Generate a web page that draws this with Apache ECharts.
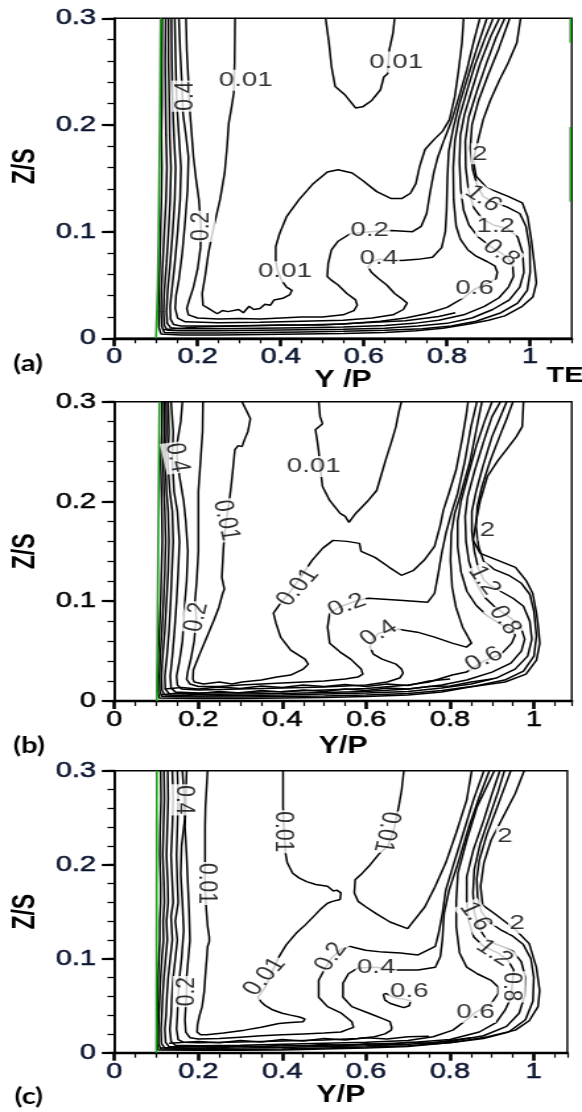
<!DOCTYPE html>
<html><head><meta charset="utf-8">
<script src="https://cdn.jsdelivr.net/npm/echarts@6/dist/echarts.min.js"></script>
<style>
html,body{margin:0;padding:0;background:#fff;overflow:hidden}
#wrap{width:582px;height:1112px;overflow:hidden}
#chart{width:441px;height:1112px;transform:scaleX(1.3197);transform-origin:0 0}
</style></head>
<body><div id="wrap"><div id="chart"></div></div>
<script>
// ---------- axis ticks ----------
const xMajorStep = 0.2, xMinorStep = 0.05, xLabelMax = 1;
const yMajorStep = 0.1, yMinorStep = 0.02;
const xMax = [1.1, 1.09, 1.08];
const yMax = 0.3;
const xTitles = ['Y /P', 'Y/P', 'Y/P'];
const yTitle = 'Z/S';
const panelTags = ['(a)', '(b)', '(c)'];

// ---------- panel (a) contour lines [Y/P, Z/S] ----------
const A_G = [[0.111,0.3],[0.109,0.2],[0.106,0.1],[0.104,0.05],[0.1,0]];
const A_TE1 = [[1.097,0.3],[1.097,0.277]];
const A_TE2 = [[1.097,0.198],[1.097,0.128]];
const A_001 = [[0.29,0.3],[0.289,0.26],[0.287,0.23],[0.281,0.215],[0.275,0.202],[0.271,0.18],[0.265,0.155],[0.254,0.13],[0.239,0.105],[0.226,0.08],[0.218,0.058],[0.211,0.042],[0.213,0.031],[0.226,0.028],[0.247,0.023],[0.26,0.026],[0.273,0.025],[0.299,0.027],[0.31,0.024],[0.324,0.03],[0.335,0.027],[0.35,0.028],[0.362,0.032],[0.375,0.031],[0.384,0.036],[0.405,0.0375],[0.422,0.041],[0.427,0.045],[0.414,0.048],[0.401,0.055],[0.392,0.064],[0.388,0.073],[0.388,0.086],[0.397,0.098],[0.414,0.114],[0.444,0.13],[0.478,0.145],[0.512,0.156],[0.538,0.158],[0.572,0.155],[0.597,0.148],[0.631,0.1375],[0.666,0.131],[0.691,0.131],[0.712,0.136],[0.725,0.145],[0.734,0.161],[0.747,0.177],[0.768,0.186],[0.789,0.194],[0.806,0.205],[0.819,0.227],[0.828,0.252],[0.836,0.277],[0.84,0.3]];
const A_001U = [[0.508,0.3],[0.516,0.277],[0.522,0.255],[0.531,0.236],[0.555,0.228],[0.58,0.216],[0.597,0.217],[0.619,0.223],[0.64,0.233],[0.648,0.245],[0.657,0.248],[0.661,0.27],[0.67,0.286],[0.674,0.3]];
const A_02 = [[0.172,0.3],[0.174,0.27],[0.178,0.24],[0.182,0.21],[0.186,0.19],[0.19,0.17],[0.196,0.15],[0.203,0.13],[0.208,0.105],[0.207,0.085],[0.2,0.065],[0.19,0.048],[0.18,0.036],[0.174,0.028],[0.178,0.022],[0.2,0.019],[0.25,0.018],[0.3,0.0185],[0.35,0.018],[0.4,0.019],[0.45,0.02],[0.5,0.02],[0.55,0.022],[0.576,0.026],[0.584,0.031],[0.58,0.036],[0.559,0.042],[0.538,0.05],[0.52,0.055],[0.512,0.058],[0.514,0.07],[0.522,0.083],[0.538,0.091],[0.567,0.098],[0.614,0.1],[0.666,0.101],[0.717,0.1],[0.738,0.105],[0.751,0.117],[0.759,0.136],[0.768,0.155],[0.778,0.17],[0.79,0.183],[0.8,0.193],[0.812,0.205],[0.83,0.228],[0.848,0.252],[0.864,0.278],[0.879,0.3]];
const A_04 = [[0.155,0.3],[0.158,0.27],[0.162,0.24],[0.165,0.21],[0.172,0.19],[0.178,0.17],[0.176,0.14],[0.17,0.11],[0.163,0.08],[0.155,0.055],[0.148,0.04],[0.146,0.028],[0.152,0.019],[0.17,0.0155],[0.25,0.0145],[0.35,0.015],[0.45,0.016],[0.55,0.017],[0.62,0.019],[0.67,0.022],[0.695,0.027],[0.704,0.033],[0.695,0.036],[0.674,0.042],[0.655,0.05],[0.635,0.056],[0.618,0.062],[0.61,0.067],[0.62,0.072],[0.636,0.074],[0.691,0.073],[0.73,0.074],[0.765,0.076],[0.787,0.085],[0.796,0.1],[0.799,0.12],[0.801,0.15],[0.804,0.175],[0.815,0.197],[0.83,0.22],[0.85,0.245],[0.872,0.272],[0.896,0.3]];
const A_06 = [[0.145,0.3],[0.147,0.26],[0.15,0.22],[0.155,0.19],[0.16,0.16],[0.158,0.13],[0.152,0.1],[0.145,0.07],[0.138,0.045],[0.134,0.03],[0.135,0.018],[0.142,0.013],[0.16,0.0115],[0.25,0.0115],[0.35,0.012],[0.45,0.0125],[0.55,0.0135],[0.64,0.016],[0.7,0.019],[0.75,0.023],[0.8,0.029],[0.84,0.038],[0.866,0.046],[0.9,0.052],[0.918,0.056],[0.921,0.062],[0.915,0.068],[0.896,0.072],[0.87,0.077],[0.85,0.083],[0.832,0.093],[0.822,0.105],[0.816,0.13],[0.815,0.16],[0.819,0.185],[0.828,0.205],[0.845,0.228],[0.866,0.255],[0.89,0.28],[0.911,0.3]];
const A_08 = [[0.137,0.3],[0.138,0.26],[0.14,0.22],[0.143,0.19],[0.147,0.16],[0.145,0.13],[0.14,0.1],[0.134,0.07],[0.128,0.045],[0.125,0.025],[0.127,0.014],[0.135,0.01],[0.16,0.009],[0.25,0.009],[0.35,0.0095],[0.45,0.01],[0.55,0.0105],[0.65,0.012],[0.72,0.014],[0.78,0.017],[0.84,0.022],[0.89,0.03],[0.925,0.038],[0.948,0.048],[0.96,0.058],[0.958,0.068],[0.945,0.076],[0.93,0.08],[0.905,0.086],[0.875,0.095],[0.853,0.106],[0.84,0.12],[0.833,0.14],[0.83,0.165],[0.832,0.19],[0.842,0.21],[0.86,0.233],[0.88,0.258],[0.905,0.283],[0.926,0.3]];
const A_12 = [[0.13,0.3],[0.13,0.26],[0.132,0.22],[0.133,0.19],[0.136,0.16],[0.134,0.13],[0.13,0.1],[0.125,0.07],[0.12,0.045],[0.118,0.025],[0.12,0.012],[0.127,0.0075],[0.16,0.007],[0.25,0.007],[0.35,0.0075],[0.45,0.008],[0.55,0.0085],[0.65,0.0095],[0.73,0.0115],[0.8,0.014],[0.86,0.019],[0.91,0.027],[0.95,0.036],[0.975,0.048],[0.985,0.062],[0.982,0.08],[0.97,0.095],[0.945,0.103],[0.913,0.106],[0.885,0.112],[0.865,0.122],[0.852,0.138],[0.845,0.16],[0.844,0.185],[0.852,0.207],[0.872,0.232],[0.895,0.258],[0.918,0.282],[0.939,0.3]];
const A_16 = [[0.123,0.3],[0.122,0.26],[0.123,0.22],[0.124,0.19],[0.126,0.16],[0.124,0.13],[0.12,0.1],[0.116,0.07],[0.113,0.045],[0.112,0.025],[0.114,0.011],[0.12,0.0055],[0.16,0.005],[0.25,0.005],[0.35,0.0055],[0.45,0.006],[0.55,0.0065],[0.65,0.0075],[0.74,0.009],[0.81,0.0115],[0.87,0.016],[0.93,0.024],[0.97,0.033],[0.993,0.045],[1.0,0.062],[0.999,0.085],[0.99,0.105],[0.975,0.117],[0.945,0.123],[0.91,0.128],[0.887,0.133],[0.873,0.143],[0.862,0.158],[0.856,0.178],[0.86,0.2],[0.876,0.223],[0.9,0.248],[0.925,0.272],[0.951,0.3]];
const A_2 = [[0.115,0.3],[0.114,0.26],[0.114,0.22],[0.113,0.19],[0.114,0.16],[0.113,0.13],[0.111,0.1],[0.109,0.07],[0.107,0.045],[0.106,0.025],[0.107,0.01],[0.112,0.004],[0.16,0.003],[0.25,0.003],[0.35,0.0035],[0.45,0.004],[0.55,0.0045],[0.65,0.0055],[0.725,0.007],[0.79,0.0095],[0.853,0.0135],[0.9,0.017],[0.939,0.021],[0.981,0.03],[1.007,0.039],[1.015,0.052],[1.011,0.067],[1.003,0.092],[0.994,0.114],[0.981,0.127],[0.947,0.133],[0.896,0.141],[0.87,0.152],[0.863,0.167],[0.875,0.186],[0.887,0.205],[0.904,0.223],[0.926,0.242],[0.947,0.258],[0.968,0.277],[0.977,0.3]];
const A_X1 = [[0.115,0.008],[0.2,0.0105],[0.3,0.0115],[0.4,0.0125],[0.5,0.0125],[0.6,0.0145],[0.7,0.0165],[0.78,0.0205],[0.82,0.024]];
const A_LBL = [[0.316,0.242,'0.01',0],[0.678,0.259,'0.01',0],[0.171,0.227,'0.4',90],[0.209,0.105,'0.2',90],[0.41,0.0625,'0.01',0],[0.614,0.101,'0.2',0],[0.636,0.075,'0.4',0],[0.866,0.047,'0.6',0],[0.93,0.08,'0.8',-40],[0.917,0.105,'1.2',0],[0.887,0.131,'1.6',-40],[0.879,0.173,'2',0]];

// ---------- panel (b) ----------
const B_G = [[0.107,0.3],[0.104,0.15],[0.101,0]];
const B_001 = [[0.304,0.3],[0.316,0.29],[0.324,0.283],[0.318,0.27],[0.31,0.262],[0.304,0.255],[0.295,0.256],[0.287,0.252],[0.283,0.235],[0.278,0.215],[0.272,0.195],[0.266,0.18],[0.262,0.165],[0.26,0.155],[0.256,0.124],[0.262,0.112],[0.258,0.108],[0.249,0.094],[0.237,0.081],[0.22,0.064],[0.203,0.047],[0.188,0.031],[0.187,0.022],[0.19,0.019],[0.212,0.017],[0.25,0.019],[0.28,0.017],[0.304,0.019],[0.35,0.021],[0.387,0.024],[0.42,0.026],[0.45,0.032],[0.462,0.037],[0.454,0.042],[0.42,0.051],[0.396,0.064],[0.385,0.078],[0.379,0.088],[0.396,0.098],[0.42,0.11],[0.445,0.125],[0.471,0.141],[0.496,0.153],[0.521,0.161],[0.554,0.16],[0.584,0.158],[0.588,0.15],[0.621,0.144],[0.655,0.134],[0.684,0.126],[0.713,0.131],[0.738,0.141],[0.763,0.155],[0.776,0.175],[0.784,0.191],[0.797,0.208],[0.814,0.231],[0.83,0.265],[0.839,0.288],[0.843,0.3]];
const B_001U = [[0.487,0.3],[0.49,0.285],[0.496,0.278],[0.479,0.272],[0.483,0.262],[0.487,0.25],[0.49,0.235],[0.496,0.215],[0.513,0.201],[0.538,0.188],[0.55,0.185],[0.559,0.179],[0.575,0.188],[0.605,0.201],[0.625,0.211],[0.635,0.225],[0.646,0.241],[0.659,0.258],[0.671,0.275],[0.678,0.29],[0.684,0.3]];
const B_02 = [[0.211,0.3],[0.21,0.27],[0.205,0.24],[0.2,0.21],[0.2,0.18],[0.2,0.15],[0.196,0.12],[0.192,0.1],[0.195,0.084],[0.19,0.06],[0.182,0.042],[0.175,0.03],[0.172,0.022],[0.18,0.017],[0.2,0.0145],[0.25,0.0145],[0.3,0.016],[0.35,0.017],[0.4,0.018],[0.45,0.019],[0.5,0.02],[0.55,0.022],[0.58,0.024],[0.592,0.027],[0.588,0.032],[0.563,0.042],[0.538,0.049],[0.513,0.058],[0.508,0.074],[0.513,0.088],[0.535,0.094],[0.554,0.097],[0.58,0.101],[0.605,0.103],[0.68,0.101],[0.747,0.099],[0.763,0.108],[0.772,0.128],[0.78,0.148],[0.79,0.168],[0.803,0.188],[0.818,0.208],[0.835,0.24],[0.85,0.275],[0.864,0.3]];
const B_04 = [[0.162,0.3],[0.158,0.28],[0.15,0.26],[0.149,0.244],[0.155,0.225],[0.165,0.2],[0.17,0.18],[0.175,0.15],[0.172,0.12],[0.168,0.1],[0.165,0.08],[0.162,0.06],[0.155,0.04],[0.148,0.025],[0.15,0.016],[0.16,0.012],[0.2,0.011],[0.3,0.012],[0.4,0.013],[0.5,0.014],[0.6,0.016],[0.65,0.019],[0.68,0.023],[0.688,0.028],[0.684,0.032],[0.671,0.037],[0.638,0.042],[0.617,0.047],[0.609,0.054],[0.615,0.062],[0.63,0.068],[0.676,0.072],[0.722,0.069],[0.763,0.064],[0.805,0.058],[0.839,0.054],[0.851,0.058],[0.83,0.074],[0.814,0.094],[0.805,0.114],[0.801,0.141],[0.803,0.168],[0.811,0.188],[0.826,0.208],[0.848,0.241],[0.864,0.275],[0.876,0.3]];
const B_06 = [[0.135,0.3],[0.14,0.27],[0.138,0.24],[0.142,0.21],[0.15,0.19],[0.155,0.16],[0.152,0.13],[0.148,0.1],[0.143,0.07],[0.138,0.045],[0.133,0.025],[0.135,0.013],[0.145,0.009],[0.2,0.008],[0.3,0.0085],[0.4,0.0095],[0.5,0.011],[0.6,0.0125],[0.7,0.016],[0.75,0.019],[0.805,0.026],[0.839,0.029],[0.88,0.04],[0.922,0.047],[0.947,0.058],[0.955,0.066],[0.945,0.072],[0.92,0.077],[0.89,0.085],[0.862,0.096],[0.84,0.11],[0.826,0.13],[0.818,0.155],[0.818,0.18],[0.826,0.2],[0.842,0.225],[0.862,0.255],[0.882,0.28],[0.9,0.3]];
const B_08 = [[0.128,0.3],[0.13,0.27],[0.127,0.24],[0.132,0.21],[0.138,0.19],[0.14,0.16],[0.137,0.13],[0.134,0.1],[0.13,0.07],[0.125,0.045],[0.12,0.025],[0.121,0.012],[0.13,0.0075],[0.2,0.0065],[0.3,0.007],[0.4,0.0075],[0.5,0.0085],[0.6,0.0095],[0.7,0.012],[0.78,0.016],[0.84,0.021],[0.9,0.029],[0.945,0.038],[0.97,0.05],[0.978,0.062],[0.968,0.075],[0.945,0.083],[0.931,0.087],[0.905,0.095],[0.88,0.105],[0.86,0.12],[0.845,0.14],[0.838,0.16],[0.836,0.185],[0.842,0.205],[0.858,0.23],[0.88,0.26],[0.9,0.285],[0.92,0.3]];
const B_12 = [[0.123,0.3],[0.124,0.27],[0.121,0.24],[0.124,0.21],[0.128,0.19],[0.13,0.16],[0.128,0.13],[0.124,0.1],[0.12,0.07],[0.115,0.045],[0.112,0.025],[0.113,0.011],[0.12,0.006],[0.2,0.005],[0.3,0.0055],[0.4,0.006],[0.5,0.007],[0.6,0.008],[0.7,0.0095],[0.78,0.013],[0.85,0.017],[0.91,0.023],[0.955,0.032],[0.985,0.045],[0.995,0.062],[0.99,0.08],[0.975,0.095],[0.95,0.103],[0.92,0.11],[0.895,0.116],[0.881,0.121],[0.868,0.132],[0.858,0.15],[0.852,0.17],[0.852,0.19],[0.862,0.21],[0.878,0.235],[0.9,0.265],[0.92,0.285],[0.935,0.3]];
const B_16 = [[0.118,0.3],[0.119,0.27],[0.116,0.24],[0.118,0.21],[0.12,0.19],[0.122,0.16],[0.12,0.13],[0.117,0.1],[0.113,0.07],[0.109,0.045],[0.107,0.025],[0.108,0.01],[0.113,0.0045],[0.2,0.004],[0.3,0.004],[0.4,0.0045],[0.5,0.005],[0.6,0.006],[0.7,0.0075],[0.78,0.0105],[0.86,0.015],[0.93,0.021],[0.975,0.03],[1.0,0.045],[1.006,0.065],[1.0,0.09],[0.99,0.107],[0.97,0.118],[0.94,0.126],[0.905,0.132],[0.88,0.14],[0.868,0.155],[0.862,0.175],[0.865,0.195],[0.876,0.215],[0.895,0.24],[0.918,0.265],[0.937,0.285],[0.95,0.3]];
const B_2 = [[0.113,0.3],[0.113,0.27],[0.11,0.24],[0.112,0.21],[0.113,0.19],[0.114,0.16],[0.112,0.13],[0.11,0.1],[0.107,0.07],[0.104,0.045],[0.103,0.025],[0.103,0.01],[0.107,0.003],[0.2,0.0025],[0.3,0.0025],[0.4,0.003],[0.5,0.0035],[0.6,0.0045],[0.7,0.006],[0.78,0.009],[0.847,0.014],[0.931,0.019],[0.981,0.027],[1.006,0.041],[1.014,0.058],[1.01,0.075],[1.006,0.088],[0.997,0.108],[0.981,0.121],[0.956,0.134],[0.914,0.141],[0.872,0.148],[0.855,0.161],[0.862,0.18],[0.872,0.201],[0.889,0.225],[0.914,0.241],[0.94,0.255],[0.958,0.265],[0.972,0.275],[0.975,0.3]];
const B_X1 = [[0.11,0.006],[0.15,0.008],[0.2,0.0075],[0.25,0.0095],[0.3,0.008],[0.35,0.0105],[0.4,0.009],[0.45,0.011],[0.5,0.0095],[0.55,0.012],[0.6,0.0105],[0.65,0.013],[0.7,0.012],[0.75,0.0145],[0.8,0.015],[0.85,0.019],[0.9,0.022]];
const B_X2 = [[0.12,0.012],[0.16,0.0135],[0.2,0.012],[0.25,0.014],[0.3,0.0125],[0.35,0.015],[0.4,0.0135],[0.45,0.016],[0.5,0.0145],[0.55,0.0165],[0.6,0.0145],[0.65,0.017],[0.7,0.0155],[0.75,0.02],[0.8,0.022]];
const B_LBL = [[0.149,0.244,'0.4',-80],[0.266,0.181,'0.01',-80],[0.475,0.235,'0.01',0],[0.195,0.084,'0.2',80],[0.437,0.114,'0.01',55],[0.554,0.096,'0.2',25],[0.63,0.068,'0.4',35],[0.881,0.042,'0.6',30],[0.931,0.081,'0.8',-60],[0.881,0.121,'1.2',-60],[0.889,0.171,'2',0]];

// ---------- panel (c) ----------
const C_G = [[0.101,0.3],[0.1,0]];
const C_001 = [[0.402,0.3],[0.402,0.28],[0.402,0.262],[0.404,0.24],[0.408,0.212],[0.412,0.202],[0.425,0.191],[0.44,0.186],[0.458,0.182],[0.48,0.179],[0.508,0.177],[0.522,0.172],[0.53,0.173],[0.54,0.17],[0.538,0.163],[0.533,0.162],[0.52,0.161],[0.508,0.159],[0.49,0.152],[0.475,0.145],[0.455,0.136],[0.433,0.127],[0.41,0.115],[0.392,0.102],[0.375,0.085],[0.36,0.07],[0.342,0.059],[0.35,0.054],[0.36,0.05],[0.375,0.046],[0.4,0.042],[0.42,0.04],[0.441,0.038],[0.454,0.036],[0.45,0.033],[0.42,0.032],[0.392,0.031],[0.35,0.027],[0.31,0.024],[0.26,0.021],[0.22,0.019],[0.205,0.019],[0.197,0.022],[0.198,0.03],[0.203,0.04],[0.209,0.049],[0.214,0.065],[0.217,0.084],[0.22,0.1],[0.222,0.113],[0.226,0.118],[0.226,0.123],[0.222,0.135],[0.219,0.152],[0.216,0.175],[0.216,0.209],[0.216,0.24],[0.217,0.262],[0.222,0.3]];
const C_001R = [[0.69,0.3],[0.685,0.28],[0.678,0.262],[0.665,0.235],[0.652,0.22],[0.632,0.212],[0.61,0.2],[0.591,0.191],[0.574,0.184],[0.572,0.17],[0.581,0.161],[0.6,0.155],[0.624,0.148],[0.657,0.139],[0.699,0.132],[0.715,0.141],[0.74,0.155],[0.765,0.177],[0.79,0.202],[0.815,0.234],[0.84,0.269],[0.852,0.3]];
const C_02 = [[0.172,0.3],[0.17,0.27],[0.168,0.24],[0.172,0.21],[0.175,0.18],[0.178,0.15],[0.18,0.12],[0.176,0.1],[0.172,0.08],[0.172,0.065],[0.17,0.05],[0.168,0.035],[0.17,0.022],[0.18,0.016],[0.2,0.0145],[0.25,0.015],[0.3,0.0165],[0.35,0.018],[0.4,0.019],[0.45,0.02],[0.5,0.021],[0.54,0.022],[0.558,0.025],[0.57,0.027],[0.566,0.033],[0.541,0.042],[0.508,0.049],[0.487,0.059],[0.487,0.077],[0.5,0.088],[0.516,0.1],[0.54,0.11],[0.562,0.113],[0.599,0.109],[0.64,0.107],[0.682,0.106],[0.724,0.104],[0.765,0.113],[0.773,0.127],[0.782,0.148],[0.79,0.173],[0.807,0.198],[0.832,0.234],[0.856,0.269],[0.881,0.3]];
const C_04 = [[0.162,0.3],[0.165,0.28],[0.168,0.25],[0.16,0.22],[0.158,0.19],[0.162,0.16],[0.165,0.13],[0.16,0.1],[0.155,0.08],[0.152,0.06],[0.15,0.04],[0.148,0.025],[0.152,0.014],[0.165,0.011],[0.2,0.0105],[0.3,0.0115],[0.4,0.0125],[0.5,0.0135],[0.58,0.015],[0.62,0.017],[0.645,0.02],[0.66,0.024],[0.661,0.027],[0.657,0.033],[0.641,0.036],[0.607,0.042],[0.566,0.049],[0.545,0.059],[0.545,0.074],[0.558,0.084],[0.58,0.09],[0.624,0.091],[0.674,0.088],[0.724,0.088],[0.765,0.091],[0.777,0.102],[0.782,0.12],[0.786,0.148],[0.798,0.173],[0.818,0.2],[0.845,0.24],[0.87,0.272],[0.894,0.3]];
const C_06B = [[0.641,0.062],[0.645,0.056],[0.66,0.052],[0.675,0.05],[0.69,0.048],[0.703,0.05],[0.706,0.055],[0.69,0.057],[0.675,0.058],[0.66,0.06],[0.648,0.063],[0.641,0.062]];
const C_06 = [[0.15,0.3],[0.152,0.27],[0.15,0.24],[0.148,0.21],[0.15,0.18],[0.152,0.16],[0.145,0.14],[0.15,0.12],[0.145,0.1],[0.14,0.08],[0.137,0.06],[0.135,0.04],[0.132,0.025],[0.135,0.012],[0.145,0.008],[0.2,0.0075],[0.3,0.008],[0.4,0.009],[0.5,0.01],[0.6,0.011],[0.7,0.013],[0.76,0.017],[0.807,0.024],[0.84,0.035],[0.861,0.043],[0.898,0.052],[0.915,0.063],[0.915,0.07],[0.898,0.077],[0.865,0.084],[0.84,0.091],[0.823,0.106],[0.815,0.134],[0.815,0.162],[0.819,0.191],[0.84,0.226],[0.865,0.262],[0.906,0.3]];
const C_08 = [[0.138,0.3],[0.14,0.27],[0.138,0.24],[0.135,0.21],[0.138,0.18],[0.14,0.16],[0.135,0.145],[0.138,0.12],[0.133,0.1],[0.128,0.08],[0.125,0.06],[0.123,0.04],[0.12,0.025],[0.122,0.011],[0.13,0.0065],[0.2,0.006],[0.3,0.0065],[0.4,0.007],[0.5,0.008],[0.6,0.009],[0.7,0.0105],[0.8,0.014],[0.87,0.022],[0.91,0.032],[0.931,0.045],[0.945,0.058],[0.948,0.07],[0.952,0.088],[0.939,0.098],[0.915,0.106],[0.881,0.113],[0.857,0.123],[0.844,0.141],[0.84,0.162],[0.84,0.187],[0.856,0.216],[0.881,0.248],[0.9,0.275],[0.919,0.3]];
const C_12 = [[0.127,0.3],[0.128,0.27],[0.126,0.24],[0.124,0.21],[0.127,0.18],[0.128,0.16],[0.124,0.14],[0.126,0.12],[0.122,0.1],[0.118,0.08],[0.115,0.06],[0.113,0.04],[0.111,0.025],[0.112,0.01],[0.12,0.005],[0.2,0.0045],[0.3,0.005],[0.4,0.0055],[0.5,0.0065],[0.6,0.0075],[0.7,0.009],[0.8,0.012],[0.88,0.018],[0.935,0.028],[0.965,0.042],[0.978,0.06],[0.98,0.08],[0.97,0.097],[0.95,0.108],[0.925,0.113],[0.906,0.116],[0.885,0.122],[0.868,0.133],[0.858,0.15],[0.855,0.17],[0.858,0.195],[0.872,0.222],[0.895,0.252],[0.915,0.278],[0.93,0.3]];
const C_16 = [[0.118,0.3],[0.119,0.27],[0.117,0.24],[0.115,0.21],[0.118,0.18],[0.119,0.16],[0.116,0.14],[0.117,0.12],[0.113,0.1],[0.11,0.08],[0.108,0.06],[0.106,0.04],[0.105,0.025],[0.105,0.01],[0.11,0.004],[0.2,0.0035],[0.3,0.0035],[0.4,0.004],[0.5,0.005],[0.6,0.006],[0.7,0.0075],[0.8,0.0105],[0.88,0.015],[0.94,0.022],[0.98,0.035],[0.998,0.055],[1.0,0.08],[0.993,0.1],[0.975,0.115],[0.95,0.124],[0.92,0.131],[0.893,0.139],[0.875,0.15],[0.866,0.165],[0.864,0.185],[0.87,0.205],[0.888,0.232],[0.91,0.258],[0.93,0.282],[0.945,0.3]];
const C_2 = [[0.11,0.3],[0.111,0.27],[0.109,0.24],[0.108,0.21],[0.11,0.18],[0.11,0.16],[0.108,0.14],[0.108,0.12],[0.106,0.1],[0.104,0.08],[0.103,0.06],[0.102,0.04],[0.101,0.025],[0.101,0.01],[0.104,0.003],[0.2,0.0025],[0.3,0.0025],[0.4,0.003],[0.5,0.004],[0.6,0.005],[0.7,0.0065],[0.807,0.011],[0.89,0.017],[0.956,0.024],[0.989,0.034],[1.01,0.049],[1.014,0.066],[1.006,0.091],[0.989,0.116],[0.956,0.131],[0.906,0.148],[0.878,0.157],[0.873,0.177],[0.881,0.202],[0.898,0.226],[0.927,0.251],[0.956,0.276],[0.977,0.3]];
const C_X1 = [[0.11,0.005],[0.2,0.0065],[0.25,0.005],[0.3,0.0075],[0.35,0.006],[0.4,0.0085],[0.45,0.007],[0.5,0.009],[0.55,0.0075],[0.6,0.0095],[0.65,0.0085],[0.7,0.011],[0.75,0.01],[0.8,0.013],[0.85,0.016]];
const C_X2 = [[0.13,0.01],[0.2,0.012],[0.25,0.0105],[0.3,0.013],[0.35,0.0115],[0.4,0.014],[0.45,0.0125],[0.5,0.015],[0.55,0.0135],[0.6,0.016],[0.65,0.0145],[0.7,0.017],[0.75,0.0175]];
const C_LBL = [[0.168,0.269,'0.4',-90],[0.222,0.18,'0.01',-90],[0.404,0.235,'0.01',-90],[0.649,0.235,'0.01',-100],[0.172,0.065,'0.2',90],[0.358,0.081,'0.01',55],[0.516,0.102,'0.2',60],[0.624,0.091,'0.4',0],[0.703,0.065,'0.6',0],[0.861,0.043,'0.6',0],[0.948,0.07,'0.8',-90],[0.906,0.106,'1.2',-40],[0.861,0.145,'1.6',-60],[0.931,0.23,'2',0],[0.96,0.138,'2',0]];

// ---------- assembly ----------
const panelLines = [
  [A_001, A_001U, A_02, A_04, A_06, A_08, A_12, A_16, A_2, A_X1],
  [B_001, B_001U, B_02, B_04, B_06, B_08, B_12, B_16, B_2, B_X1, B_X2],
  [C_001, C_001R, C_02, C_04, C_06B, C_06, C_08, C_12, C_16, C_2, C_X1, C_X2]
];
const panelGreen = [[A_G, A_TE1, A_TE2], [B_G], [C_G]];
const panelLabels = [A_LBL, B_LBL, C_LBL];

const FONT = 'Liberation Sans';
const layout = [
  {left: 71.6, top: 18.3, width: 361.6, height: 320, tickColor: '#0c1631', xGap: 24, yGap: 48},
  {left: 67.7, top: 401.7, width: 365.5, height: 299.3, tickColor: '#000', xGap: 34, yGap: 43},
  {left: 64.4, top: 770.7, width: 365.5, height: 282, tickColor: '#0c1631', xGap: 25, yGap: 37}
];
const near = (v, step) => Math.abs(v / step - Math.round(v / step)) < 1e-6;
const fmtX = v => (v > xLabelMax + 1e-6 || !near(v, xMajorStep)) ? '' : (Math.abs(v) < 1e-9 ? '0' : String(+v.toFixed(2)));
const fmtY = v => (Math.abs(v) < 1e-9 ? '0' : String(+v.toFixed(2)));

const grid = [], xAxis = [], yAxis = [], series = [];
layout.forEach((L, i) => {
  grid.push({left: L.left, top: L.top, width: L.width, height: L.height, show: true,
    borderColor: '#000', borderWidth: 1.4, backgroundColor: '#fff', containLabel: false});
  xAxis.push({gridIndex: i, type: 'value', min: 0, max: xMax[i], interval: xMinorStep, position: 'bottom',
    axisLine: {show: false}, axisLabel: {show: false}, splitLine: {show: false},
    axisTick: {show: true, length: 5, lineStyle: {color: '#000', width: 1.2}}});
  xAxis.push({gridIndex: i, type: 'value', min: 0, max: xMax[i], interval: xMajorStep, position: 'bottom',
    axisLine: {show: true, onZero: false, lineStyle: {color: '#000', width: 2.4}},
    axisTick: {show: true, length: 8, lineStyle: {color: '#000', width: 2.6}},
    axisLabel: {show: true, formatter: fmtX, showMaxLabel: false, margin: 8, fontSize: 22,
      color: L.tickColor, fontFamily: FONT, textBorderColor: L.tickColor, textBorderWidth: 0.5},
    splitLine: {show: false},
    name: xTitles[i], nameLocation: 'middle', nameGap: L.xGap,
    nameTextStyle: {fontFamily: FONT, fontWeight: 'bold', fontSize: 23, color: '#000'}});
  yAxis.push({gridIndex: i, type: 'value', min: 0, max: yMax, interval: yMinorStep, position: 'left',
    axisLine: {show: false}, axisLabel: {show: false}, splitLine: {show: false},
    axisTick: {show: true, length: 5.3, lineStyle: {color: '#000', width: 1.3}}});
  yAxis.push({gridIndex: i, type: 'value', min: 0, max: yMax, interval: yMajorStep, position: 'left',
    axisLine: {show: true, onZero: false, lineStyle: {color: '#000', width: 1.7}},
    axisTick: {show: true, length: 9.6, lineStyle: {color: '#000', width: 2.2}},
    axisLabel: {show: true, formatter: fmtY, margin: 14, fontSize: 22,
      color: L.tickColor, fontFamily: FONT, textBorderColor: L.tickColor, textBorderWidth: 0.5},
    splitLine: {show: false},
    name: yTitle, nameLocation: 'middle', nameGap: L.yGap,
    nameTextStyle: {fontFamily: FONT, fontWeight: 'bold', fontSize: 23, color: '#000',
      padding: i === 0 ? [0, 0, 0, 24] : 0}});

  const xi = 2 * i + 1, yi = 2 * i + 1;
  panelGreen[i].forEach(d => series.push({type: 'line', xAxisIndex: xi, yAxisIndex: yi,
    data: d, symbol: 'none', silent: true, z: 3, lineStyle: {color: '#1f9e1f', width: 1.6}}));
  panelLines[i].forEach(d => series.push({type: 'line', xAxisIndex: xi, yAxisIndex: yi,
    data: d, symbol: 'none', silent: true, z: 2, lineStyle: {color: '#000', width: 1.5}}));
  series.push({type: 'scatter', xAxisIndex: xi, yAxisIndex: yi, symbolSize: 1, silent: true, z: 6,
    itemStyle: {color: 'rgba(0,0,0,0)'},
    data: panelLabels[i].map(l => ({name: l[2], value: [l[0], l[1]], label: {rotate: l[3]}})),
    label: {show: true, position: 'inside', formatter: '{b}', fontFamily: FONT, fontSize: 21,
      color: '#000', backgroundColor: '#fff', padding: [0, 1]}});
});

const graphic = [
  {type: 'text', left: 10, top: 353, style: {text: panelTags[0], font: 'bold 22px Lato', fill: '#000'}},
  {type: 'text', left: 10, top: 735, style: {text: panelTags[1], font: 'bold 22px Lato', fill: '#000'}},
  {type: 'text', left: 11, top: 1086, style: {text: panelTags[2], font: 'bold 22px Lato', fill: '#000'}},
  {type: 'text', left: 414, top: 365, style: {text: 'TE', font: 'bold 22px "Liberation Sans"', fill: '#000'}}
];

const chart = echarts.init(document.getElementById('chart'), null, {renderer: 'canvas'});
chart.setOption({animation: false, textStyle: {fontFamily: FONT}, grid, xAxis, yAxis, series, graphic});
</script></body></html>
